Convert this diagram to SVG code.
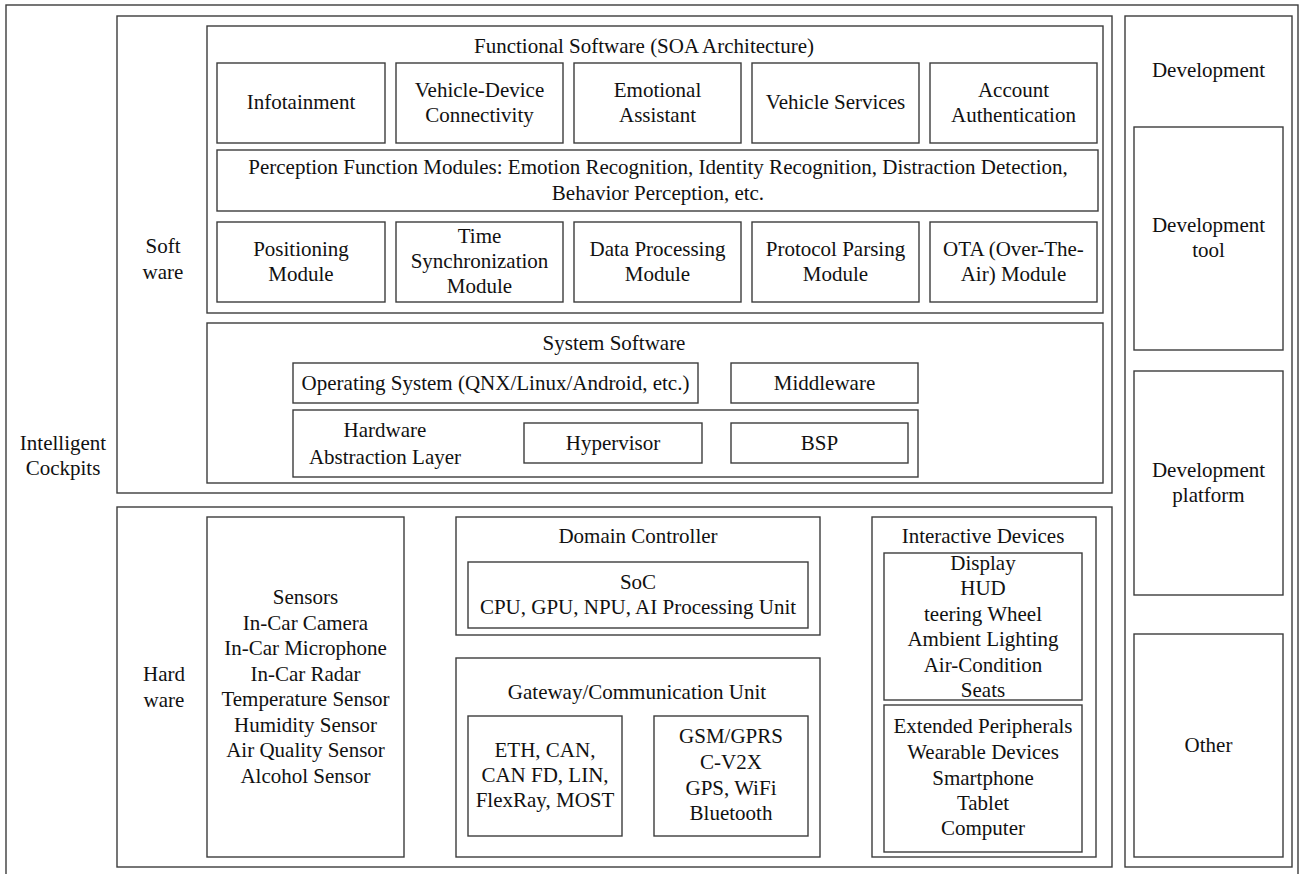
<svg xmlns="http://www.w3.org/2000/svg" width="1300" height="874" viewBox="0 0 1300 874" font-family="'Liberation Serif', 'DejaVu Serif', serif">
<style>
rect{fill:none;stroke:#3c3c3c;stroke-width:1.4}
text{font-family:'Liberation Serif','Times New Roman','DejaVu Serif',serif;font-size:21px;fill:#111;text-anchor:middle}
</style>
<rect x="0" y="0" width="1300" height="874" style="fill:#fff;stroke:none"/>
<g id="frame"><rect x="6" y="5" width="1292" height="880"/>
<text x="63" y="450">Intelligent</text><text x="63" y="475">Cockpits</text></g>
<g id="software"><rect x="117" y="16" width="995" height="477"/>
<text x="163" y="253">Soft</text><text x="163" y="279">ware</text></g>
<g id="functional"><rect x="207" y="26" width="896" height="287"/>
<text x="644" y="53">Functional Software (SOA Architecture)</text></g>
<g id="infotainment"><rect x="217" y="63" width="168" height="80"/><text x="301" y="109">Infotainment</text></g>
<g id="connectivity"><rect x="396" y="63" width="167" height="80"/><text x="479.5" y="97">Vehicle-Device</text><text x="479.5" y="122">Connectivity</text></g>
<g id="emotional"><rect x="574" y="63" width="167" height="80"/><text x="657.5" y="97">Emotional</text><text x="657.5" y="122">Assistant</text></g>
<g id="vehicle-services"><rect x="752" y="63" width="167" height="80"/><text x="835.5" y="109">Vehicle Services</text></g>
<g id="account"><rect x="930" y="63" width="167" height="80"/><text x="1013.5" y="97">Account</text><text x="1013.5" y="122">Authentication</text></g>
<g id="perception"><rect x="217" y="150" width="881" height="61"/>
<text x="658" y="174">Perception Function Modules: Emotion Recognition, Identity Recognition, Distraction Detection,</text>
<text x="658" y="200">Behavior Perception, etc.</text></g>
<g id="positioning"><rect x="217" y="222" width="168" height="80"/><text x="301" y="256">Positioning</text><text x="301" y="281">Module</text></g>
<g id="timesync"><rect x="396" y="222" width="167" height="80"/><text x="479.5" y="243">Time</text><text x="479.5" y="268">Synchronization</text><text x="479.5" y="293">Module</text></g>
<g id="dataproc"><rect x="574" y="222" width="167" height="80"/><text x="657.5" y="256">Data Processing</text><text x="657.5" y="281">Module</text></g>
<g id="protocol"><rect x="752" y="222" width="167" height="80"/><text x="835.5" y="256">Protocol Parsing</text><text x="835.5" y="281">Module</text></g>
<g id="ota"><rect x="930" y="222" width="167" height="80"/><text x="1013.5" y="256">OTA (Over-The-</text><text x="1013.5" y="281">Air) Module</text></g>
<g id="system"><rect x="207" y="323" width="896" height="160"/><text x="614" y="350">System Software</text></g>
<g id="os"><rect x="293" y="363" width="405" height="40"/><text x="495.5" y="390">Operating System (QNX/Linux/Android, etc.)</text></g>
<g id="middleware"><rect x="731" y="363" width="187" height="40"/><text x="824.5" y="390">Middleware</text></g>
<g id="hal"><rect x="293" y="410" width="625" height="67"/><text x="385" y="437">Hardware</text><text x="385" y="464">Abstraction Layer</text></g>
<g id="hypervisor"><rect x="524" y="423" width="178" height="40"/><text x="613" y="450">Hypervisor</text></g>
<g id="bsp"><rect x="731" y="423" width="177" height="40"/><text x="819.5" y="450">BSP</text></g>
<g id="hardware"><rect x="117" y="507" width="995" height="360"/>
<text x="164" y="681">Hard</text><text x="164" y="707">ware</text></g>
<g id="sensors"><rect x="207" y="517" width="197" height="340"/>
<text x="305.5" y="604">Sensors</text><text x="305.5" y="630">In-Car Camera</text><text x="305.5" y="655">In-Car Microphone</text><text x="305.5" y="681">In-Car Radar</text><text x="305.5" y="706">Temperature Sensor</text><text x="305.5" y="732">Humidity Sensor</text><text x="305.5" y="757">Air Quality Sensor</text><text x="305.5" y="783">Alcohol Sensor</text></g>
<g id="domain"><rect x="456" y="517" width="364" height="118"/><text x="638" y="543">Domain Controller</text></g>
<g id="soc"><rect x="468" y="562" width="340" height="66"/><text x="638" y="589">SoC</text><text x="638" y="614">CPU, GPU, NPU, AI Processing Unit</text></g>
<g id="gateway"><rect x="456" y="658" width="364" height="199"/><text x="637" y="699">Gateway/Communication Unit</text></g>
<g id="bus"><rect x="468" y="716" width="154" height="120"/><text x="545" y="757">ETH, CAN,</text><text x="545" y="782">CAN FD, LIN,</text><text x="545" y="807">FlexRay, MOST</text></g>
<g id="wireless"><rect x="654" y="716" width="154" height="120"/><text x="731" y="743">GSM/GPRS</text><text x="731" y="769">C-V2X</text><text x="731" y="795">GPS, WiFi</text><text x="731" y="820">Bluetooth</text></g>
<g id="interactive"><rect x="872" y="517" width="224" height="340"/><text x="983" y="543">Interactive Devices</text></g>
<g id="devices"><rect x="884" y="553" width="198" height="147"/>
<text x="983" y="570">Display</text><text x="983" y="595">HUD</text><text x="983" y="621">teering Wheel</text><text x="983" y="646">Ambient Lighting</text><text x="983" y="672">Air-Condition</text><text x="983" y="697">Seats</text></g>
<g id="peripherals"><rect x="884" y="705" width="198" height="147"/>
<text x="983" y="733">Extended Peripherals</text><text x="983" y="759">Wearable Devices</text><text x="983" y="785">Smartphone</text><text x="983" y="810">Tablet</text><text x="983" y="835">Computer</text></g>
<g id="development"><rect x="1125" y="16" width="167" height="851"/><text x="1208.5" y="77">Development</text></g>
<g id="devtool"><rect x="1134" y="127" width="149" height="223"/><text x="1208.5" y="232">Development</text><text x="1208.5" y="257">tool</text></g>
<g id="devplatform"><rect x="1134" y="371" width="149" height="224"/><text x="1208.5" y="477">Development</text><text x="1208.5" y="502">platform</text></g>
<g id="other"><rect x="1134" y="634" width="149" height="223"/><text x="1208.5" y="752">Other</text></g>
<g id="connectors"></g>
</svg>
